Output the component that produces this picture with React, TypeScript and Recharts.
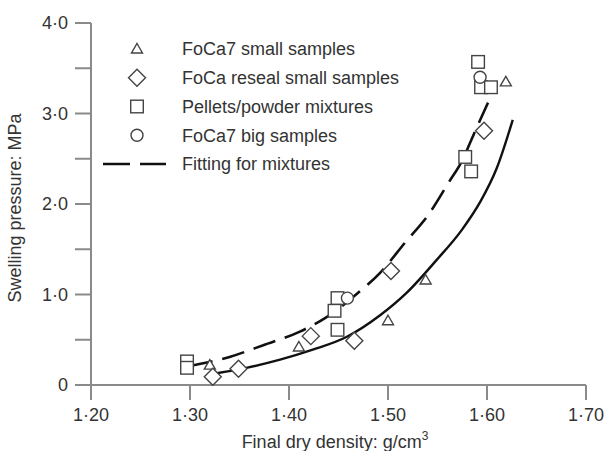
import React from 'react';
import { ComposedChart, Line, Scatter, XAxis, YAxis, Label } from 'recharts';

// measured values, density in g/cm3 and pressure in MPa
const smallFoCa7 = [
  { x: 1.32, y: 0.22 },
  { x: 1.41, y: 0.42 },
  { x: 1.5, y: 0.71 },
  { x: 1.538, y: 1.16 },
  { x: 1.619, y: 3.35 },
];

const resealSmall = [
  { x: 1.323, y: 0.09 },
  { x: 1.349, y: 0.18 },
  { x: 1.422, y: 0.54 },
  { x: 1.466, y: 0.49 },
  { x: 1.503, y: 1.26 },
  { x: 1.597, y: 2.81 },
];

const pelletMixtures = [
  { x: 1.297, y: 0.26 },
  { x: 1.297, y: 0.19 },
  { x: 1.449, y: 0.96 },
  { x: 1.446, y: 0.82 },
  { x: 1.449, y: 0.61 },
  { x: 1.591, y: 3.57 },
  { x: 1.594, y: 3.29 },
  { x: 1.604, y: 3.29 },
  { x: 1.578, y: 2.52 },
  { x: 1.584, y: 2.36 },
];

const bigFoCa7 = [
  { x: 1.459, y: 0.96 },
  { x: 1.593, y: 3.4 },
];

// fitted curves
const fitMixtures = [
  { x: 1.3, y: 0.21 },
  { x: 1.34, y: 0.31 },
  { x: 1.374, y: 0.44 },
  { x: 1.411, y: 0.59 },
  { x: 1.438, y: 0.75 },
  { x: 1.471, y: 1.03 },
  { x: 1.492, y: 1.24 },
  { x: 1.517, y: 1.57 },
  { x: 1.542, y: 1.9 },
  { x: 1.562, y: 2.25 },
  { x: 1.574, y: 2.46 },
  { x: 1.587, y: 2.78 },
  { x: 1.601, y: 3.12 },
];

const fitSmall = [
  { x: 1.327, y: 0.13 },
  { x: 1.357, y: 0.19 },
  { x: 1.391, y: 0.28 },
  { x: 1.424, y: 0.39 },
  { x: 1.458, y: 0.53 },
  { x: 1.492, y: 0.77 },
  { x: 1.519, y: 1.02 },
  { x: 1.549, y: 1.38 },
  { x: 1.575, y: 1.72 },
  { x: 1.593, y: 2.02 },
  { x: 1.61, y: 2.4 },
  { x: 1.626, y: 2.93 },
];

const xTicks = [1.2, 1.3, 1.4, 1.5, 1.6, 1.7];
const yTicks = [0, 0.5, 1, 1.5, 2, 2.5, 3, 3.5, 4];

const legendRows = [
  { name: 'FoCa7 small samples', kind: 'triangle' },
  { name: 'FoCa reseal small samples', kind: 'diamond' },
  { name: 'Pellets/powder mixtures', kind: 'square' },
  { name: 'FoCa7 big samples', kind: 'circle' },
  { name: 'Fitting for mixtures', kind: 'dash' },
];

const FONT = '"Liberation Sans", Arial, sans-serif';
const TEXT = '#333';
const MARK = '#444';
const AXIS = '#8a8a8a';

const drawMarker = (kind: string, cx: number, cy: number) => {
  const common = { fill: '#fff', stroke: MARK, strokeWidth: 1.4 };
  if (kind === 'triangle') {
    return <path d={`M${cx},${cy - 5.5} L${cx + 5.5},${cy + 4} L${cx - 5.5},${cy + 4} Z`} {...common} />;
  }
  if (kind === 'diamond') {
    return <path d={`M${cx},${cy - 8.5} L${cx + 8.5},${cy} L${cx},${cy + 8.5} L${cx - 8.5},${cy} Z`} {...common} />;
  }
  if (kind === 'square') {
    return <rect x={cx - 6.3} y={cy - 6.3} width={12.6} height={12.6} {...common} />;
  }
  return <circle cx={cx} cy={cy} r={6} {...common} />;
};

const shapeFor = (kind: string) => (props: any) => drawMarker(kind, props.cx, props.cy);

const tickY = (v: number) => {
  if (!Number.isInteger(v)) return '';
  return v === 0 ? '0' : v.toFixed(1).replace('.', '·');
};

const ChartLegend = () => (
  <svg width={300} height={150} style={{ position: 'absolute', left: 100, top: 35 }}>
    {legendRows.map((row, i) => {
      const cy = 14 + i * 28.75;
      return (
        <g key={row.name}>
          {row.kind === 'dash' ? (
            <line x1={3} x2={66} y1={cy} y2={cy} stroke="#111" strokeWidth={2.6} strokeDasharray="27 10" />
          ) : (
            drawMarker(row.kind, 37, cy)
          )}
          <text x={82} y={cy + 6.3} fontSize={18} fill={TEXT} fontFamily={FONT}>
            {row.name}
          </text>
        </g>
      );
    })}
  </svg>
);

const App: React.FC = () => {
  return (
    <div style={{ position: 'absolute', left: 0, top: 0, width: 605, height: 451, background: '#fff' }}>
      <ComposedChart width={605} height={451} margin={{ top: 23, right: 19, left: 0, bottom: 0 }}>
        <XAxis
          type="number"
          dataKey="x"
          domain={[1.2, 1.7]}
          ticks={xTicks}
          tickFormatter={(v: number) => v.toFixed(2).replace('.', '·')}
          height={66}
          tickSize={15}
          tickMargin={8}
          stroke={AXIS}
          strokeWidth={2}
          tick={{ fill: TEXT, fontSize: 18, fontFamily: FONT }}
          allowDataOverflow
        >
          <Label
            content={() => (
              <text x={335} y={448} textAnchor="middle" fontSize={18} fill={TEXT} fontFamily={FONT}>
                Final dry density: g/cm
                <tspan dy={-8} fontSize={12}>3</tspan>
              </text>
            )}
          />
        </XAxis>
        <YAxis
          type="number"
          domain={[0, 4]}
          ticks={yTicks}
          tickFormatter={tickY}
          width={91}
          tickSize={16}
          tickMargin={7}
          stroke={AXIS}
          strokeWidth={2}
          tick={{ fill: TEXT, fontSize: 18, fontFamily: FONT }}
          interval={0}
        >
          <Label
            content={() => (
              <text
                x={0}
                y={0}
                transform="translate(21,208) rotate(-90)"
                textAnchor="middle"
                fontSize={18}
                fill={TEXT}
                fontFamily={FONT}
              >
                Swelling pressure: MPa
              </text>
            )}
          />
        </YAxis>
        <Line
          data={fitSmall}
          dataKey="y"
          type="monotone"
          stroke="#111"
          strokeWidth={2.4}
          dot={false}
          activeDot={false}
          isAnimationActive={false}
        />
        <Line
          data={fitMixtures}
          dataKey="y"
          type="monotone"
          stroke="#111"
          strokeWidth={2.6}
          strokeDasharray="23 10"
          dot={false}
          activeDot={false}
          isAnimationActive={false}
        />
        <Scatter data={smallFoCa7} dataKey="y" shape={shapeFor('triangle')} isAnimationActive={false} />
        <Scatter data={resealSmall} dataKey="y" shape={shapeFor('diamond')} isAnimationActive={false} />
        <Scatter data={pelletMixtures} dataKey="y" shape={shapeFor('square')} isAnimationActive={false} />
        <Scatter data={bigFoCa7} dataKey="y" shape={shapeFor('circle')} isAnimationActive={false} />
      </ComposedChart>
      <ChartLegend />
    </div>
  );
};

export default App;
